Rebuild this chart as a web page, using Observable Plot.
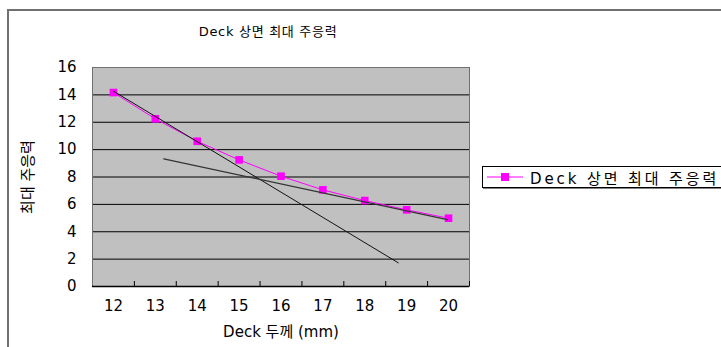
<!DOCTYPE html>
<html>
<head>
<meta charset="utf-8">
<script src="https://cdn.jsdelivr.net/npm/d3@7"></script>
<script src="https://cdn.jsdelivr.net/npm/@observablehq/plot@0.6"></script>
<style>
  html, body { margin: 0; padding: 0; background: #fff; overflow: hidden; }
  #wrap { position: relative; width: 721px; height: 347px; overflow: hidden; font-family: "DejaVu Sans", "Noto Sans CJK KR", sans-serif; }
  #border { position: absolute; left: 7px; top: 9px; width: 800px; height: 400px; border: 2px solid #707070; box-sizing: border-box; }
  #title { position: absolute; left: 0; width: 536px; top: 21px; text-align: center; font-size: 13px; letter-spacing: 0.7px; color: #000; }
  #chart { position: absolute; left: 0; top: 0; }
  #legend { position: absolute; left: 482px; top: 166px; width: 300px; height: 20px; border: 1px solid #000; box-shadow: 1px 1px 0 #808080; background: #fff; display: flex; align-items: center; }
  #legend span { font-size: 15px; letter-spacing: 2.9px; margin-left: 3px; white-space: nowrap; }
</style>
</head>
<body>
<div id="wrap">
  <div id="border"></div>
  <div id="chart"></div>
  <div id="title">Deck 상면 최대 주응력</div>
  <div id="legend"></div>
</div>
<script>
const seriesName = "Deck 상면 최대 주응력";
const thickness = [12, 13, 14, 15, 16, 17, 18, 19, 20];
const stress = [14.17, 12.25, 10.61, 9.25, 8.06, 7.06, 6.28, 5.6, 4.99];
const trend1X = [12.0, 18.8];
const trend1Y = [14.27, 1.73];
const trend2X = [13.2, 19.97];
const trend2Y = [9.33, 4.89];
const yTicks = [0, 2, 4, 6, 8, 10, 12, 14, 16];
const xBounds = [12.5, 13.5, 14.5, 15.5, 16.5, 17.5, 18.5, 19.5, 20.5];

const pts = thickness.map((t, i) => ({t, s: stress[i]}));
const tr1 = trend1X.map((x, i) => ({x, y: trend1Y[i]}));
const tr2 = trend2X.map((x, i) => ({x, y: trend2Y[i]}));

const chart = Plot.plot({
  width: 721,
  height: 347,
  marginLeft: 92,
  marginRight: 252,
  marginTop: 67,
  marginBottom: 61,
  style: {fontFamily: "'DejaVu Sans', 'Noto Sans CJK KR', sans-serif", fontSize: "14px", color: "#000", background: "transparent"},
  x: {domain: [11.5, 20.5]},
  y: {domain: [0, 16]},
  marks: [
    Plot.frame({fill: "#c0c0c0"}),
    Plot.ruleY(yTicks, {stroke: "#000", strokeWidth: 1}),
    Plot.frame({stroke: "#707070"}),
    Plot.ruleY([0], {stroke: "#000", strokeWidth: 1.5}),
    Plot.tickX(xBounds, {stroke: "#000", strokeWidth: 1, insetTop: 214}),
    Plot.axisY(yTicks, {tickSize: 0, tickPadding: 16, fontSize: 15, tickFormat: d => String(d), label: "최대 주응력", labelAnchor: "center", labelArrow: "none", labelOffset: 70}),
    Plot.axisX(thickness, {tickSize: 0, tickPadding: 14, fontSize: 15, tickFormat: d => String(d), label: null}),
    Plot.axisX({label: "Deck 두께 (mm)", labelAnchor: "center", labelArrow: "none", labelOffset: 50, ticks: [], fontSize: 15, style: {letterSpacing: "1.2px"}}),
    Plot.line(pts, {x: "t", y: "s", stroke: "#ff00ff", strokeWidth: 1}),
    Plot.dot(pts, {x: "t", y: "s", symbol: "square", r: 4.3, fill: "#ff00ff", stroke: "none"}),
    Plot.line(tr1, {x: "x", y: "y", stroke: "#111", strokeWidth: 1}),
    Plot.line(tr2, {x: "x", y: "y", stroke: "#333", strokeWidth: 1.3})
  ]
});
document.getElementById("chart").appendChild(chart);

const lg = document.getElementById("legend");
lg.innerHTML = '<svg width="40" height="12" style="margin-left:4px"><line x1="0" y1="6" x2="36" y2="6" stroke="#ff00ff" stroke-width="1.2"/><rect x="14" y="2" width="8" height="8" fill="#ff00ff"/></svg><span></span>';
lg.querySelector("span").textContent = seriesName;
</script>
</body>
</html>
